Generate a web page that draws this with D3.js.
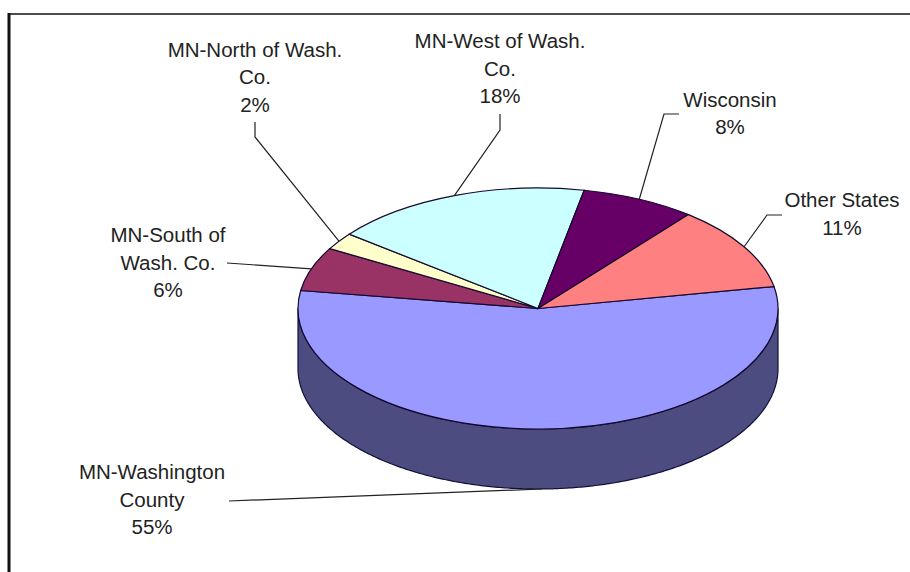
<!DOCTYPE html>
<html>
<head>
<meta charset="utf-8">
<script src="https://cdn.jsdelivr.net/npm/d3@7"></script>
<style>
html,body{margin:0;padding:0;background:#fff;overflow:hidden}
svg{display:block}
text{font-family:"Liberation Sans",Arial,sans-serif;font-size:20.5px;fill:#222;text-anchor:middle}
</style>
</head>
<body>
<svg id="chart" width="910" height="572"></svg>
<script>
// Data (order is clockwise from the right-hand edge of the pie)
const categories = ["MN-Washington County","MN-South of Wash. Co.","MN-North of Wash. Co.","MN-West of Wash. Co.","Wisconsin","Other States"];
const shares = [55.3,5.9,2.3,17.5,7.7,11.3];
const labelLines = [["MN-Washington","County"],["MN-South of","Wash. Co."],["MN-North of Wash.","Co."],["MN-West of Wash.","Co."],["Wisconsin"],["Other States"]];
const topColors = ["#9999FF","#993366","#FFFFCC","#CCFFFF","#660066","#FF8080"];
const sideColor = "#4C4C80";

// Layout
const cx=538, cy=308.5, rx=240, ry=120.5, depth=60;
const labelX=[152,168,255,500,730,842];
const labelY=[479,242,56.5,48,106.5,207];
const lineH=27.5;
// leader start + optional elbow, in pixels
const leaders=[[[229,501]],[[227,263]],[[255,122],[255,137]],[[500,114],[500,130]],[[679,114],[664,114]],[[782,215],[767,215]]];

const svg=d3.select("#chart");
svg.append("line").attr("x1",9).attr("x2",9).attr("y1",13).attr("y2",572).attr("stroke","#111").attr("stroke-width",3);
svg.append("line").attr("x1",8).attr("x2",910).attr("y1",14).attr("y2",14).attr("stroke","#111").attr("stroke-width",1.4);

const start=79.5*Math.PI/180;
const pie=d3.pie().sort(null).value(d=>d).startAngle(start).endAngle(start+2*Math.PI);
const arcs=pie(shares);
const arc=d3.arc().innerRadius(0).outerRadius(rx);
const px=a=>cx+rx*Math.sin(a), py=a=>cy-ry*Math.cos(a);

// Side wall: visible lower half of the rim
const main=arcs[0];
const a0=Math.max(main.startAngle,Math.PI/2), a1=Math.min(main.endAngle,3*Math.PI/2);
const steps=d3.range(a0,a1,0.01).concat([a1]);
const rim=steps.map(a=>[px(a),py(a)]);
const rimBottom=steps.slice().reverse().map(a=>[px(a),py(a)+depth]);
svg.append("path")
  .attr("d",d3.line()(rim.concat(rimBottom))+"Z")
  .attr("fill",sideColor).attr("stroke","#10103a").attr("stroke-width",1.2);

// Top surface
svg.append("g").attr("transform",`translate(${cx},${cy}) scale(1,${ry/rx})`)
  .selectAll("path").data(arcs).join("path")
  .attr("d",arc)
  .attr("fill",(d,i)=>topColors[i])
  .attr("stroke","#14082e").attr("stroke-width",1.2)
  .attr("vector-effect","non-scaling-stroke");

// Leaders
arcs.forEach((d,i)=>{
  const m=(d.startAngle+d.endAngle)/2;
  const below=Math.cos(m)<0 && i===0;
  const end=[px(m),py(m)+(below?depth:0)];
  svg.append("path").attr("d",d3.line()(leaders[i].concat([end])))
    .attr("fill","none").attr("stroke","#222").attr("stroke-width",1.2);
});

// Labels
arcs.forEach((d,i)=>{
  const lines=labelLines[i].concat([Math.round(shares[i])+"%"]);
  const t=svg.append("text");
  lines.forEach((s,j)=>t.append("tspan").attr("x",labelX[i]).attr("y",labelY[i]+j*lineH).text(s));
});
</script>
</body>
</html>
